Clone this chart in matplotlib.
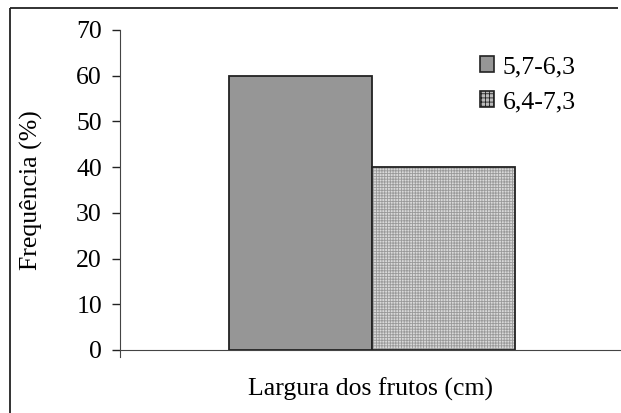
import matplotlib.pyplot as plt
from matplotlib.lines import Line2D
from matplotlib.patches import Patch

plt.rcParams['font.family'] = ['Liberation Serif', 'DejaVu Serif']
plt.rcParams['hatch.linewidth'] = 0.6

classes = ['5,7-6,3', '6,4-7,3']
freq = [60, 40]
positions = [-0.5, 0.5]

W, H = 621, 413
fig = plt.figure(figsize=(W / 100, H / 100), dpi=100)

# outer chart frame: only the top and left edges fall inside the image
fx, fy = 10 / W, 1 - 8 / H
fig.add_artist(Line2D([fx, (W - 3) / W], [fy, fy], transform=fig.transFigure,
                      color='#222222', linewidth=1.3, solid_capstyle='butt'))
fig.add_artist(Line2D([fx, fx], [fy, 0.0], transform=fig.transFigure,
                      color='#222222', linewidth=1.3, solid_capstyle='butt'))

ax = fig.add_axes([120 / W, (H - 350) / H, (W - 121) / W, 320 / H])

ax.bar(positions[0], freq[0], width=1, color='#969696', edgecolor='#222222', linewidth=1.3)
ax.bar(positions[1], freq[1], width=1, color='#d9d9d9', edgecolor='#999999',
       hatch='++++++', linewidth=0)
ax.bar(positions[1], freq[1], width=1, fill=False, edgecolor='#222222', linewidth=1.3)

ax.set_xlim(-1 - 109 / 143, 1 + 105 / 143)
ax.set_ylim(0, 70)
ax.set_yticks(range(0, 71, 10))
ax.set_xticks([])
ax.tick_params(axis='y', direction='out', length=6, width=1, labelsize=18.5, pad=7,
               colors='#222222', labelcolor='black')
for s in ['top', 'right']:
    ax.spines[s].set_visible(False)
ax.spines['left'].set_color('#444444')
ax.spines['bottom'].set_color('#444444')
ax.spines['left'].set_bounds(-1.5, 70)

ax.set_ylabel('Frequência (%)', fontsize=18.5)
ax.yaxis.set_label_coords(-0.154, 0.5)
ax.set_xlabel('Largura dos frutos (cm)', fontsize=18.5, labelpad=20)

handles = [Patch(facecolor='#969696', edgecolor='#222222', linewidth=1.2),
           Patch(facecolor='#bbbbbb', edgecolor='#222222', hatch='++++', linewidth=1.2)]
ax.legend(handles, classes, loc='upper left', bbox_to_anchor=(0.673, 0.99), frameon=False,
          fontsize=18.5, handlelength=0.55, handleheight=0.55, handletextpad=0.35,
          labelspacing=0.5)

fig.savefig('out.png', dpi=100)
